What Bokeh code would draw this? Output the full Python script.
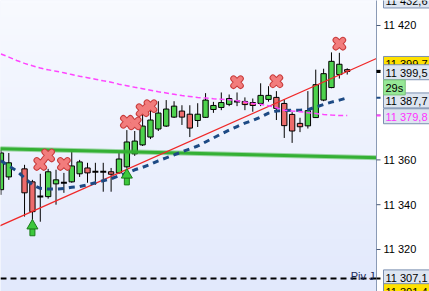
import numpy as np
from bokeh.plotting import figure
from bokeh.models import Range1d, Label, ColumnDataSource
from bokeh.core.properties import value
from bokeh.embed import file_html
from bokeh.resources import INLINE

# ---------------- data ----------------
idx = [0, 1, 3, 4, 5, 6, 7, 8, 9, 10, 11, 12, 13, 14, 15, 16, 17, 18, 19, 20, 21, 22,
       23, 24, 25, 26, 27, 28, 29, 30, 31, 32, 33, 34, 35, 36, 37, 38, 39, 40, 41, 42, 43, 44]
open_ = [11346.7, 11352.4, 11356.0, 11350.2, 11343.7, 11343.6, 11349.3, 11349.8, 11350.2, 11353.8,
         11356.4, 11354.7, 11354.7, 11354.7, 11354.2, 11356.9, 11362.7, 11366.7, 11370.2, 11373.8,
         11375.1, 11379.1, 11381.8, 11380.4, 11377.6, 11379.0, 11382.5, 11383.4, 11384.8, 11386.1,
         11386.1, 11385.6, 11385.2, 11387.0, 11387.9, 11385.2, 11380.3, 11376.3, 11375.2, 11378.9,
         11386.7, 11392.3, 11398.1, 11400.3]
high = [11364.4, 11363.1, 11357.8, 11351.1, 11353.8, 11356.0, 11355.6, 11354.2, 11364.0, 11360.0,
        11358.7, 11358.7, 11358.7, 11356.4, 11363.1, 11373.3, 11372.9, 11381.3, 11382.2, 11386.2,
        11386.7, 11386.2, 11384.4, 11384.4, 11385.3, 11389.8, 11385.9, 11390.1, 11389.2, 11390.1,
        11387.9, 11387.4, 11394.2, 11392.9, 11390.7, 11387.1, 11381.3, 11378.8, 11390.7, 11400.3,
        11400.7, 11408.0, 11407.8, 11400.9]
low = [11344.4, 11351.1, 11334.7, 11332.0, 11332.4, 11342.7, 11340.0, 11345.3, 11349.8, 11352.4,
       11349.8, 11348.9, 11345.8, 11345.8, 11353.8, 11356.4, 11361.8, 11366.2, 11369.3, 11372.9,
       11374.7, 11378.7, 11375.6, 11370.2, 11374.7, 11378.7, 11381.0, 11382.2, 11384.0, 11384.0,
       11382.2, 11381.5, 11384.0, 11386.0, 11377.8, 11369.8, 11367.6, 11372.4, 11374.0, 11378.7,
       11386.2, 11392.0, 11396.3, 11398.1]
close = [11363.1, 11358.7, 11345.3, 11336.9, 11343.7, 11354.7, 11351.1, 11349.8, 11357.3, 11359.1,
         11354.2, 11354.7, 11354.7, 11353.6, 11360.4, 11368.0, 11368.4, 11375.1, 11377.8, 11380.9,
         11382.7, 11384.0, 11379.1, 11374.2, 11380.4, 11386.7, 11384.3, 11385.6, 11387.4, 11386.1,
         11384.7, 11384.3, 11388.8, 11388.8, 11383.0, 11375.3, 11372.9, 11374.8, 11382.0, 11393.6,
         11398.5, 11404.0, 11402.7, 11399.5]

line_idx = list(range(45))
blue_line = [11359.6, 11357.3, 11355.1, 11352.0, 11348.9, 11347.3, 11347.0, 11347.0, 11347.2, 11347.8,
             11348.1, 11348.9, 11349.8, 11350.7, 11351.6, 11352.9, 11354.1, 11355.6, 11356.7, 11358.0,
             11359.6, 11360.9, 11362.2, 11363.6, 11364.9, 11366.2, 11368.0, 11369.8, 11371.6, 11373.3,
             11374.9, 11376.4, 11377.6, 11379.1, 11380.9, 11381.8, 11382.0, 11382.2, 11382.2, 11382.4,
             11383.6, 11384.7, 11385.8, 11386.7, 11387.7]
magenta_line = [11407.3, 11405.9, 11404.4, 11403.1, 11402.0, 11401.0, 11400.2, 11399.6, 11398.9, 11398.1,
                11397.3, 11396.7, 11396.0, 11395.3, 11394.7, 11393.8, 11393.1, 11392.4, 11391.8, 11391.1,
                11390.4, 11389.9, 11389.3, 11388.7, 11388.3, 11387.9, 11387.6, 11387.3, 11387.1, 11386.9,
                11386.4, 11385.8, 11385.2, 11384.8, 11384.2, 11383.3, 11382.2, 11381.8, 11381.5, 11381.1,
                11380.7, 11380.3, 11380.0, 11379.8, 11379.8]

green_line_x = [-1, 48]
green_line_y = [11365.0, 11361.0]
red_line_x = [-1, 48]
red_line_y = [11329.2, 11405.7]

pivot_value = 11307.1
pivot_label = "Piv J"

sell_idx = [5, 6, 8, 16, 17, 18, 19, 30, 35, 43]
sell_price = [11358.2, 11362.0, 11358.2, 11377.0, 11376.3, 11382.2, 11384.0, 11394.7, 11395.1, 11411.9]

buy_idx = [4, 16]
buy_price = [11329.2, 11351.9]

y_ticks = [11320, 11340, 11360, 11380, 11400, 11420]

tag_values = [11432.6, 11399.7, 11399.5, 11387.7, 11379.8, 11307.1, 11301.4]
timer_text = "29s"

# ---------------- figure ----------------
W, H = 429, 291
PLOT_W = 376                     # width of the price area; the scale panel sits on the right
x_start, x_axis = -0.055, 47.72
y_start, y_end = 11301.25, 11431.16
px_x = PLOT_W / (x_axis - x_start)
x_end = x_start + W / px_x
px_y = H / (y_end - y_start)
FONT = "Liberation Sans"

p = figure(width=W, height=H, output_backend="svg", toolbar_location=None,
           x_range=Range1d(x_start, x_end), y_range=Range1d(y_start, y_end),
           x_axis_location=None, y_axis_location=None,
           min_border_left=0, min_border_right=0, min_border_top=0, min_border_bottom=0)
p.outline_line_color = None
p.border_fill_color = "white"
p.background_fill_color = "#edf1fd"
p.xgrid.visible = False
p.ygrid.visible = False

# background gradient of the price area
NG = 100
tt = np.linspace(0, 1, NG)[:, None]
bot_rgb = np.array([226, 233, 252], dtype=float)
top_rgb = np.array([248, 250, 255], dtype=float)
rgb = bot_rgb + (top_rgb - bot_rgb) * tt
img = np.zeros((NG, 1), dtype=np.uint32)
view = img.view(dtype=np.uint8).reshape((NG, 1, 4))
view[..., 0] = rgb[:, 0:1].astype(np.uint8)
view[..., 1] = rgb[:, 1:2].astype(np.uint8)
view[..., 2] = rgb[:, 2:3].astype(np.uint8)
view[..., 3] = 255
p.image_rgba(image=[img], x=x_start, y=y_start, dw=x_axis - x_start, dh=y_end - y_start)

# candles
o = np.array(open_); c = np.array(close); x = np.array(idx, dtype=float)
up = c > o
dn = c < o
dj = c == o
wick_src = ColumnDataSource(dict(x=x, h=high, l=low))
p.segment(x0="x", x1="x", y0="l", y1="h", source=wick_src, line_color="black", line_width=1)

bw = 0.68
p.vbar(x=x[up], width=bw, top=c[up], bottom=o[up], fill_color="#4dd24d",
       line_color="black", line_width=1)
p.vbar(x=x[dn], width=bw, top=o[dn], bottom=c[dn], fill_color="#ec6c6c",
       line_color="black", line_width=1)
p.segment(x0=x[dj] - 0.38, x1=x[dj] + 0.38, y0=o[dj], y1=o[dj], line_color="black", line_width=2)

# indicator lines
p.line(green_line_x, green_line_y, line_color="#3cb43c", line_width=5, line_alpha=0.45)
p.line(green_line_x, green_line_y, line_color="#34b034", line_width=3)
p.line(red_line_x, red_line_y, line_color="#f02828", line_width=1.3)
p.line(line_idx, blue_line, line_color="#1d4a84", line_width=3, line_dash="6 5")
p.line(line_idx, magenta_line, line_color="#ff44ff", line_width=1.5, line_dash="5 3")
p.line([x_start, x_axis], [pivot_value, pivot_value], line_color="black", line_width=2,
       line_dash="6 4")

# sell markers (X)
p.scatter(sell_idx, sell_price, marker="x", size=10, line_color="#c83c3c", line_width=6.5,
          line_cap="round")
p.scatter(sell_idx, sell_price, marker="x", size=10, line_color="#f27c7c", line_width=4.5,
          line_cap="round")

# buy arrows
bp = np.array(buy_price)
p.rect(buy_idx, bp - 1.5, width=5, height=7, width_units="screen", height_units="screen",
       fill_color="#3cc83c", line_color="#1a7a1a", line_width=1)
p.scatter(buy_idx, bp + 1.4, marker="triangle", size=11, fill_color="#3cc83c",
          line_color="#1a7a1a", line_width=1)

# pivot label
p.add_layout(Label(x=374, x_units="screen", y=pivot_value + 1.15, text=pivot_label,
                   text_align="right", text_baseline="alphabetic", text_font=FONT,
                   text_font_size="11px", text_color="#1b2a59"))

# ---------------- price scale panel on the right ----------------
p.quad(left=[x_axis], right=[x_end + 1], bottom=[y_start - 5], top=[y_end + 5],
       fill_color="white", line_color=None)
p.segment(x0=[x_axis], x1=[x_axis], y0=[y_start - 5], y1=[y_end + 5],
          line_color="#8a9ab5", line_width=1)
tick_len = 4 / px_x
p.segment(x0=[x_axis] * len(y_ticks), x1=[x_axis + tick_len] * len(y_ticks),
          y0=y_ticks, y1=y_ticks, line_color="#4a5a78", line_width=1)
p.text(x=[x_axis + 7 / px_x] * len(y_ticks), y=y_ticks,
       text=[f"{t:,}".replace(",", " ") for t in y_ticks],
       text_baseline="middle", text_align="left", text_font=value(FONT),
       text_font_size="11px", text_color="black")

# colored marks of the indicators where they meet the scale
mark_vals = [close[-1], blue_line[-1], magenta_line[-1], pivot_value]
mark_cols = ["black", "#1d4a84", "#ff44ff", "black"]
mark_w = [3, 2, 2, 2]
for mv, mc, mw in zip(mark_vals, mark_cols, mark_w):
    p.segment(x0=[x_axis], x1=[x_axis + tick_len], y0=[mv], y1=[mv], line_color=mc, line_width=mw)


def fmt(v):
    return f"{v:,.1f}".replace(",", " ").replace(".", ",")


tag_shift_px = [-3.2, 7.0, -0.8, -2.6, -0.7, 1, 0]
tag_bg = ["#dde5f0", "#ffe100", "#dde5f0", "#dde5f0", "#dde5f0", "#dde5f0", "#ffe100"]
tag_fg = ["black", "black", "black", "black", "#ff33ff", "black", "black"]
tag_x = x_axis + 7 / px_x
for v, sh, bg, fg in zip(tag_values, tag_shift_px, tag_bg, tag_fg):
    p.text(x=[tag_x], y=[v + sh / px_y], text=[fmt(v)], text_baseline="middle",
           text_align="left", text_font=value(FONT), text_font_size="11px", text_color=fg,
           background_fill_color=bg, border_line_color="#7b8fb0", border_line_width=1,
           padding=dict(left=2, right=12, top=2, bottom=1))

p.text(x=[tag_x], y=[tag_values[2] - 16.0 / px_y], text=[timer_text], text_baseline="middle",
       text_align="left", text_font=value(FONT), text_font_size="11px", text_color="black",
       background_fill_color="#96e896", border_line_color="#7bc07b", border_line_width=1,
       padding=dict(left=2, right=2, top=2, bottom=1))

open("out.html", "w").write(file_html(p, INLINE))
